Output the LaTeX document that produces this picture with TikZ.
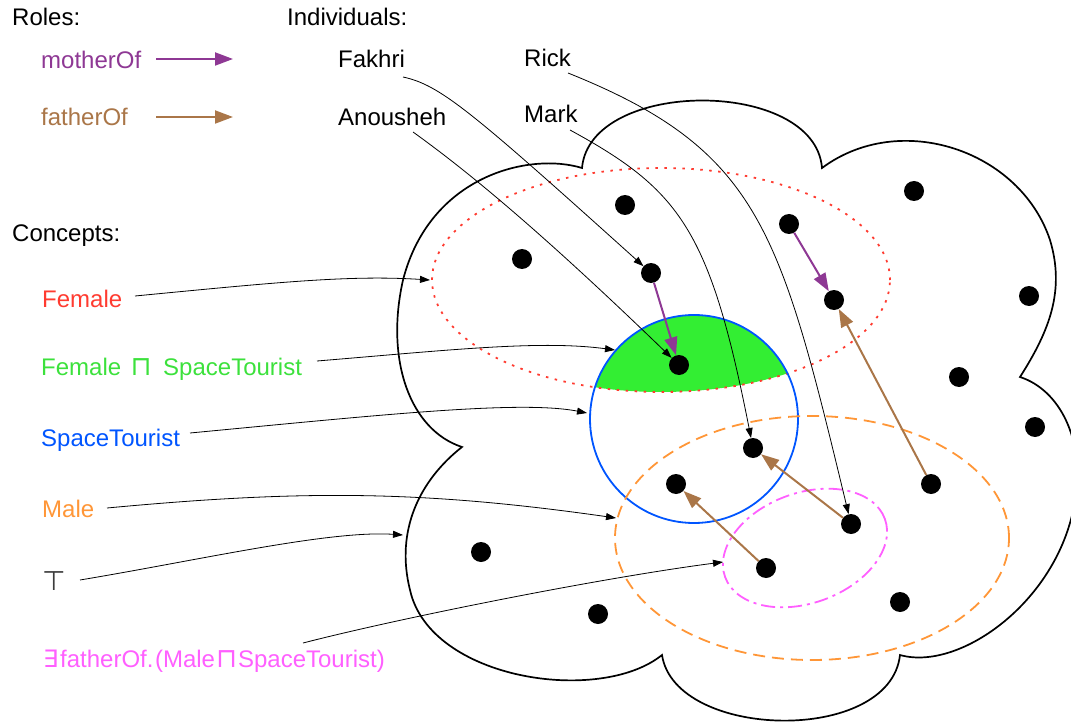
\documentclass[tikz,border=0pt]{standalone}
\usepackage{fontspec}
\setmainfont{Liberation Sans}
\newfontfamily\symf{DejaVu Sans}
\newcommand{\bigsym}[1]{{\symf\fontsize{27}{27}\selectfont #1}}
\usetikzlibrary{arrows.meta}
\definecolor{cred}{RGB}{255,59,48}
\definecolor{cgreen}{RGB}{51,238,51}
\definecolor{cgtext}{RGB}{60,225,60}
\definecolor{cblue}{RGB}{0,85,255}
\definecolor{corange}{RGB}{255,150,55}
\definecolor{cmag}{RGB}{255,95,255}
\definecolor{cpurple}{RGB}{142,56,148}
\definecolor{cbrown}{RGB}{170,118,72}
\definecolor{ctop}{RGB}{60,60,60}
\begin{document}
\begin{tikzpicture}[x=1pt,y=-1pt,
  lbl/.style={anchor=base west, inner sep=0pt, font=\fontsize{24}{28}\selectfont},
  dotn/.style={circle, fill=black, inner sep=0pt, minimum size=20pt},
  ptr/.style={-{Triangle[length=10pt,width=7pt]}, line width=0.8pt, draw=black},
  roleM/.style={-{Triangle[length=18pt,width=13pt]}, line width=2pt, draw=cpurple},
  roleF/.style={-{Triangle[length=18pt,width=13pt]}, line width=2pt, draw=cbrown},
  cloudline/.style={line width=1.7pt, draw=black},
  setline/.style={line width=1.8pt},
]
\useasboundingbox (0,0) rectangle (1071,722);

% universe (cloud)
\draw[cloudline] (582,168) .. controls (530,152) and (430,175) .. (403,280)
 .. controls (385,360) and (410,430) .. (462,447)
 .. controls (420,480) and (395,530) .. (410,590)
 .. controls (430,680) and (600,705) .. (662,655)
 .. controls (675,740) and (890,745) .. (900,655)
 .. controls (960,672) and (1060,600) .. (1075,500)
 .. controls (1085,440) and (1060,390) .. (1020,377)
 .. controls (1050,330) and (1065,290) .. (1050,240)
 .. controls (1020,150) and (900,110) .. (822,168)
 .. controls (815,78) and (590,78) .. (582,168) -- cycle;

% Female and SpaceTourist intersection
\begin{scope}
  \clip (694,419) circle [radius=104pt];
  \fill[cgreen] (661,280) ellipse [x radius=229pt, y radius=112pt];
\end{scope}

% concept extensions
\draw[setline, cred, dash pattern=on 2.5pt off 6.5pt] (661,280) ellipse [x radius=229pt, y radius=112pt];
\draw[setline, cblue] (694,419) circle [radius=104pt];
\draw[setline, corange, dash pattern=on 12pt off 7pt] (812,538) ellipse [x radius=197pt, y radius=122pt];
\draw[setline, cmag, dash pattern=on 14pt off 5pt on 3pt off 5pt, rotate around={20:(805,548)}] (805,548) ellipse [x radius=85pt, y radius=55pt];

% individuals (dots)
\node[dotn] (d1) at (625,205) {};
\node[dotn] (d2) at (522,259) {};
\node[dotn] (d3) at (651,273) {};
\node[dotn] (d4) at (679,365) {};
\node[dotn] (d5) at (789,224) {};
\node[dotn] (d6) at (834,300) {};
\node[dotn] (d7) at (914,191) {};
\node[dotn] (d8) at (1029,296) {};
\node[dotn] (d9) at (959,377) {};
\node[dotn] (d10) at (1035,427) {};
\node[dotn] (d11) at (753,448) {};
\node[dotn] (d12) at (676,484) {};
\node[dotn] (d13) at (931,484) {};
\node[dotn] (d14) at (851,524) {};
\node[dotn] (d15) at (766,568) {};
\node[dotn] (d16) at (481,552) {};
\node[dotn] (d17) at (598,614) {};
\node[dotn] (d18) at (900,602) {};

% role edges
\draw[roleM] (d3) -- (d4);
\draw[roleM] (d5) -- (d6);
\draw[roleF] (d15) -- (d12);
\draw[roleF] (d14) -- (d11);
\draw[roleF] (d13) -- (d6);

% labels
\node[lbl] (roles) at (12,26) {Roles:};
\node[lbl] (indiv) at (287,26) {Individuals:};
\node[lbl, text=cpurple] (mother) at (41,69) {motherOf};
\node[lbl, text=cbrown] (father) at (41,126) {fatherOf};
\node[lbl] (fakhri) at (338,68) {Fakhri};
\node[lbl] (anousheh) at (338,126) {Anousheh};
\node[lbl] (rick) at (524,67) {Rick};
\node[lbl] (mark) at (524,123) {Mark};
\node[lbl] (concepts) at (12,242) {Concepts:};
\node[lbl, text=cred] (female) at (42,307) {Female};
\node[lbl, text=cgtext] (fst) at (41,375) {Female\hspace{11pt}\makebox[18pt]{\bigsym{⊓}}\hspace{13pt}SpaceTourist};
\node[lbl, text=cblue] (st) at (41,446) {SpaceTourist};
\node[lbl, text=corange] (male) at (42,517) {Male};
\node[lbl, text=ctop] (top) at (42,590) {\bigsym{⊤}};
\node[lbl, text=cmag] (exists) at (43,667) {\makebox[17pt][l]{\symf ∃}fatherOf.\hspace{1.5pt}(Male\makebox[23pt]{\bigsym{⊓}}SpaceTourist)};

% legend arrows
\coordinate (ma1) at (156,59);
\coordinate (ma2) at (233,59);
\coordinate (fa1) at (156,117);
\coordinate (fa2) at (233,117);
\draw[roleM] (ma1) -- (ma2);
\draw[roleF] (fa1) -- (fa2);

% individual name pointers
\coordinate (fakS) at (403,77);
\coordinate (anoS) at (413,132);
\coordinate (rickS) at (568,73);
\coordinate (markS) at (570,130);
\draw[ptr] (fakS) .. controls (440,85) and (470,110) .. (d3);
\draw[ptr] (anoS) .. controls (480,180) and (560,250) .. (d4);
\draw[ptr] (rickS) .. controls (760,150) and (780,230) .. (d14);
\draw[ptr] (markS) .. controls (680,190) and (710,230) .. (d11);

% concept pointers
\coordinate (femS) at (135,296);   \coordinate (femT) at (430,280);
\coordinate (fstS) at (317,361);   \coordinate (fstT) at (615,350);
\coordinate (stS) at (190,433);    \coordinate (stT) at (587,413);
\coordinate (maleS) at (107,508);  \coordinate (maleT) at (616,518);
\coordinate (topS) at (80,580);    \coordinate (topT) at (403,535);
\coordinate (exS) at (303,643);    \coordinate (exT) at (723,562);
\draw[ptr] (femS) .. controls (280,282) and (350,275) .. (femT);
\draw[ptr] (fstS) .. controls (450,350) and (540,340) .. (fstT);
\draw[ptr] (stS) .. controls (380,415) and (520,400) .. (stT);
\draw[ptr] (maleS) .. controls (300,490) and (420,490) .. (maleT);
\draw[ptr] (topS) .. controls (200,560) and (330,530) .. (topT);
\draw[ptr] (exS) .. controls (400,618) and (600,578) .. (exT);
\end{tikzpicture}
\end{document}
